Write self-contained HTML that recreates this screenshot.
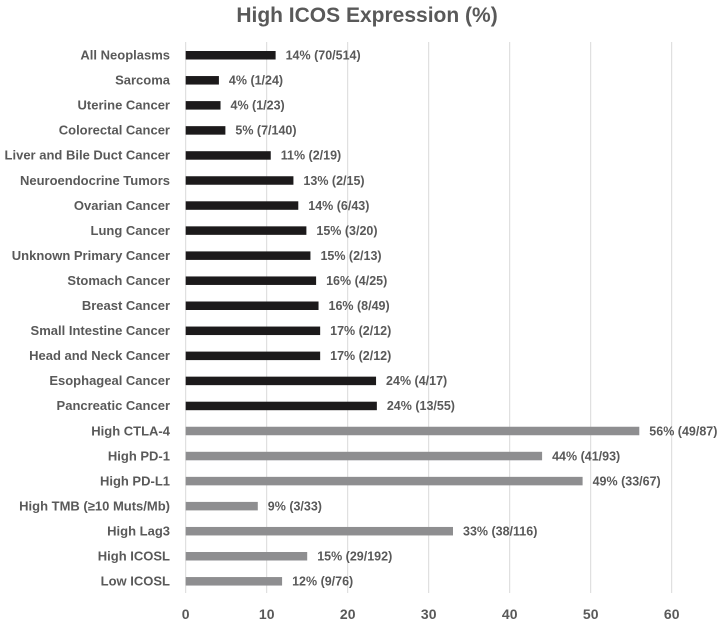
<!DOCTYPE html>
<html><head><meta charset="utf-8"><style>
body{margin:0;background:#fff;}
svg text{font-family:"Liberation Sans",sans-serif;font-weight:bold;fill:#595959;}
</style></head><body>
<svg id="chart" width="722" height="621">
<text x="367" y="22" font-size="21" text-anchor="middle">High ICOS Expression (%)</text>
<g id="grid"></g><g id="bars"></g>
</svg>
<script>
const categories=["All Neoplasms","Sarcoma","Uterine Cancer","Colorectal Cancer","Liver and Bile Duct Cancer","Neuroendocrine Tumors","Ovarian Cancer","Lung Cancer","Unknown Primary Cancer","Stomach Cancer","Breast Cancer","Small Intestine Cancer","Head and Neck Cancer","Esophageal Cancer","Pancreatic Cancer","High CTLA-4","High PD-1","High PD-L1","High TMB (≥10 Muts/Mb)","High Lag3","High ICOSL","Low ICOSL"];
const values=[11.1,4.1,4.3,4.9,10.5,13.3,13.9,14.9,15.4,16.1,16.4,16.6,16.6,23.5,23.6,56,44,49,8.9,33,15,11.9];
const valueLabels=["14% (70/514)","4% (1/24)","4% (1/23)","5% (7/140)","11% (2/19)","13% (2/15)","14% (6/43)","15% (3/20)","15% (2/13)","16% (4/25)","16% (8/49)","17% (2/12)","17% (2/12)","24% (4/17)","24% (13/55)","56% (49/87)","44% (41/93)","49% (33/67)","9% (3/33)","33% (38/116)","15% (29/192)","12% (9/76)"];
const groups=["cancer","cancer","cancer","cancer","cancer","cancer","cancer","cancer","cancer","cancer","cancer","cancer","cancer","cancer","cancer","marker","marker","marker","marker","marker","marker","marker"];
const ticks=[0,10,20,30,40,50,60];
const NS="http://www.w3.org/2000/svg";
const x=v=>185.7+v*8.1;
const y=i=>55+i*25.05;
function mk(tag,attrs,parent,txt){const e=document.createElementNS(NS,tag);for(const k in attrs)e.setAttribute(k,attrs[k]);if(txt!==undefined)e.textContent=txt;parent.appendChild(e);return e;}
const grid=document.getElementById('grid'),bars=document.getElementById('bars');
ticks.forEach(t=>{
  const l=mk('line',{x1:x(t),x2:x(t),y1:42,y2:593,stroke:'#d9d9d9','stroke-width':1},grid);
  
  
  const tx=mk('text',{x:x(t),y:619,'font-size':14,'text-anchor':'middle'},grid,String(t));
  
  
});
categories.forEach((c,i)=>{
  const cy=y(i);
  const lab=mk('text',{x:170,y:cy+4.5,'font-size':13,'text-anchor':'end'},bars,c);
  
  
  const r=mk('rect',{x:x(0),y:cy-4,width:x(values[i])-x(0),height:8.5,fill:groups[i]==='cancer'?'#1c1a1b':'#8e8e90'},bars);
  
  
  const vl=mk('text',{x:x(values[i])+10,y:cy+4.5,'font-size':12.5},bars,valueLabels[i]);
  
  
});
</script>
</body></html>
